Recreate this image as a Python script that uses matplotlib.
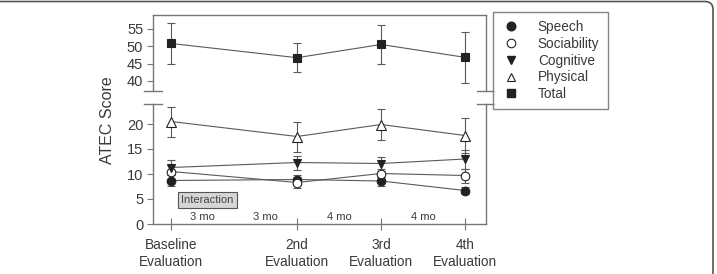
import matplotlib
matplotlib.use("Agg")
import matplotlib.pyplot as plt
from matplotlib.lines import Line2D
from matplotlib.patches import FancyBboxPatch
from matplotlib.transforms import IdentityTransform

plt.rcParams['font.family'] = ['Liberation Sans', 'DejaVu Sans']

# months since baseline for each evaluation
months = [0, 6, 10, 14]
tick_labels = ['Baseline\nEvaluation', '2nd\nEvaluation', '3rd\nEvaluation', '4th\nEvaluation']

speech = [8.7, 8.9, 8.6, 6.7]
speech_err = [1.1, 1.0, 0.9, 0.7]
sociability = [10.5, 8.3, 10.1, 9.7]
sociability_err = [1.4, 1.1, 1.0, 1.4]
cognitive = [11.3, 12.3, 12.1, 13.0]
cognitive_err = [1.5, 1.4, 1.4, 1.9]
physical = [20.5, 17.5, 19.9, 17.7]
physical_err = [3.0, 3.0, 3.1, 3.5]
total = [50.8, 46.7, 50.5, 46.8]
total_err = [5.8, 4.1, 5.6, 7.4]

interval_x = [1.5, 4.5, 8, 12]
interval_labels = ['3 mo', '3 mo', '4 mo', '4 mo']

W, H = 717, 274
fig = plt.figure(figsize=(W / 100, H / 100), dpi=100)
ax_top = fig.add_axes([153 / W, 1 - 91 / H, 333 / W, 76 / H])
ax_bot = fig.add_axes([153 / W, 1 - 224 / H, 333 / W, 120 / H])

ink = '#222222'
grey = '#5a5a5a'
spine_c = '#777777'
txt = '#3a3a3a'

def series(ax, y, err, marker, face, ms):
    ax.errorbar(months, y, yerr=err, color=grey, lw=0.8, elinewidth=0.8,
                capsize=2.6, capthick=0.8, marker=marker, ms=ms,
                mfc=face, mec=ink, mew=0.8, zorder=3)

series(ax_bot, speech, speech_err, 'o', ink, 6.2)
series(ax_bot, sociability, sociability_err, 'o', 'white', 6.2)
series(ax_bot, cognitive, cognitive_err, 'v', ink, 6.2)
series(ax_bot, physical, physical_err, '^', 'white', 6.8)
series(ax_top, total, total_err, 's', ink, 5.8)

for ax in (ax_top, ax_bot):
    ax.set_xlim(-0.86, 15)
    for s in ax.spines.values():
        s.set_color(spine_c)
        s.set_linewidth(1.0)
    ax.tick_params(axis='y', direction='out', length=4, color=spine_c,
                   labelsize=10.5, labelcolor=txt, pad=3)

ax_top.set_ylim(37.1, 59)
ax_top.set_yticks([40, 45, 50, 55])
ax_top.spines['bottom'].set_visible(False)
ax_top.tick_params(axis='x', bottom=False, labelbottom=False)

ax_bot.set_ylim(0, 24)
ax_bot.set_yticks([0, 5, 10, 15, 20])
ax_bot.spines['top'].set_visible(False)
ax_bot.set_xticks(months)
ax_bot.set_xticklabels(tick_labels, fontsize=9.8, color=txt, linespacing=1.3)
ax_bot.tick_params(axis='x', direction='inout', length=8, color=spine_c, pad=6)

for x, lab in zip(interval_x, interval_labels):
    ax_bot.text(x, 0.5, lab, ha='center', va='bottom', fontsize=8, color=txt)

ax_bot.text(1.74, 4.8, 'Interaction', ha='center', va='center', fontsize=8,
            color='#444444',
            bbox=dict(boxstyle='square,pad=0.3', fc='#d6d6d6', ec='#555555', lw=0.8))

# axis break marks
for ypix in (91, 104):
    for xpix in (153, 486):
        fig.add_artist(Line2D([(xpix - 9) / W, (xpix + 9) / W], [1 - ypix / H] * 2,
                              color=spine_c, lw=1.0))

fig.text(107 / W, 1 - 120 / H, 'ATEC Score', rotation=90, ha='center', va='center',
         fontsize=11.5, color=txt)

handles = [
    Line2D([], [], ls='none', marker='o', ms=6.2, mfc=ink, mec=ink),
    Line2D([], [], ls='none', marker='o', ms=6.2, mfc='white', mec=ink, mew=0.8),
    Line2D([], [], ls='none', marker='v', ms=6.2, mfc=ink, mec=ink),
    Line2D([], [], ls='none', marker='^', ms=6.2, mfc='white', mec=ink, mew=0.8),
    Line2D([], [], ls='none', marker='s', ms=5.8, mfc=ink, mec=ink),
]
leg = fig.legend(handles, ['Speech', 'Sociability', 'Cognitive', 'Physical', 'Total'],
                 loc='upper left', bbox_to_anchor=(493 / W, 1 - 12 / H), borderaxespad=0,
                 fontsize=9.8, frameon=True, fancybox=False, handletextpad=1.2,
                 labelspacing=0.2, borderpad=0.6, handlelength=1.5)
leg.get_frame().set_edgecolor('#666666')
leg.get_frame().set_linewidth(1.0)
for t in leg.get_texts():
    t.set_color(txt)

frame = FancyBboxPatch((-10, -10), 723, 282.5, boxstyle='round,pad=0,rounding_size=8',
                       transform=IdentityTransform(), fc='none', ec='#555555', lw=1.2)
fig.add_artist(frame)

fig.savefig('out.png', dpi=100)
